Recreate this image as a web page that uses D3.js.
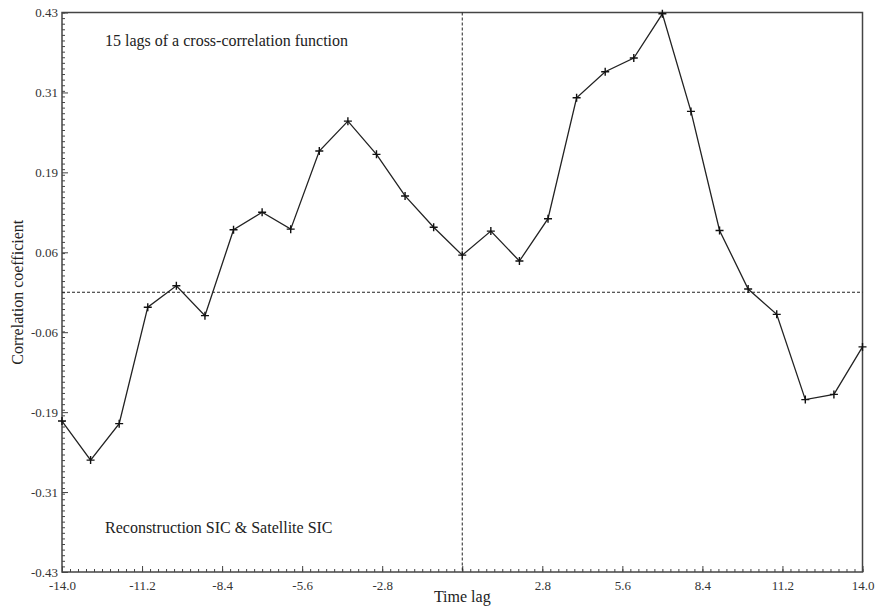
<!DOCTYPE html>
<html>
<head>
<meta charset="utf-8">
<script src="https://cdn.jsdelivr.net/npm/d3@7"></script>
<style>
  body { margin: 0; background: #fff; }
  svg { font-family: "Liberation Serif", "Times New Roman", serif; }
  .axis path, .axis line { stroke: #444; }
  .axis text { fill: #333; font-size: 13px; font-family: "Liberation Serif", serif; }
</style>
</head>
<body>
<svg width="875" height="608"></svg>
<script>
// lags and cross-correlation values
const lags = [-14, -13, -12, -11, -10, -9, -8, -7, -6, -5, -4, -3, -2, -1, 0,
  1, 2, 3, 4, 5, 6, 7, 8, 9, 10, 11, 12, 13, 14];
const corr = [-0.198, -0.258, -0.202, -0.023, 0.010, -0.036, 0.096, 0.123, 0.097,
  0.217, 0.263, 0.212, 0.148, 0.100, 0.057, 0.094, 0.048, 0.113, 0.299, 0.339,
  0.360, 0.428, 0.278, 0.095, 0.005, -0.034, -0.165, -0.157, -0.084];

const xTicks = [-14, -11.2, -8.4, -5.6, -2.8, 0, 2.8, 5.6, 8.4, 11.2, 14];
const xTickLabels = ["-14.0", "-11.2", "-8.4", "-5.6", "-2.8", "", "2.8", "5.6", "8.4", "11.2", "14.0"];
const yTicks = [0.43, 0.3071, 0.1843, 0.0614, -0.0614, -0.1843, -0.3071, -0.43];
const yTickLabels = ["0.43", "0.31", "0.19", "0.06", "-0.06", "-0.19", "-0.31", "-0.43"];

function main() {
  let svg = d3.select("svg"),
    left = 62, top = 12.5, right = 862.5, bottom = 572;

  let x = d3.scaleLinear().domain([-14, 14]).range([left, right]),
    y = d3.scaleLinear().domain([-0.43, 0.43]).range([bottom, top]);

  // minor ticks, 10 per labelled interval
  let xMinor = [], yMinor = [];
  for (let i = 0; i <= 100; i++) {
    xMinor.push(-14 + i * 0.28);
    yMinor.push(-0.43 + i * 0.0086);
  }

  svg.append("g")
    .attr("class", "axis")
    .attr("transform", "translate(0," + bottom + ")")
    .call(d3.axisBottom(x).tickValues(xMinor).tickSize(-3).tickFormat(""))
    .call(g => g.select(".domain").remove());
  svg.append("g")
    .attr("class", "axis")
    .attr("transform", "translate(" + left + ",0)")
    .call(d3.axisLeft(y).tickValues(yMinor).tickSize(-3).tickFormat(""))
    .call(g => g.select(".domain").remove());

  svg.append("g")
    .attr("class", "axis")
    .attr("transform", "translate(0," + bottom + ")")
    .call(d3.axisBottom(x).tickValues(xTicks).tickSizeInner(-6).tickSizeOuter(0).tickPadding(9)
      .tickFormat((d, i) => xTickLabels[i]))
    .call(g => g.select(".domain").remove());
  svg.append("g")
    .attr("class", "axis")
    .attr("transform", "translate(" + left + ",0)")
    .call(d3.axisLeft(y).tickValues(yTicks).tickSizeInner(-6).tickSizeOuter(0).tickPadding(6)
      .tickFormat((d, i) => yTickLabels[i]))
    .call(g => g.select(".domain").remove())
    .selectAll(".tick text").attr("x", -4);

  // frame
  svg.append("rect")
    .attr("x", left).attr("y", top)
    .attr("width", right - left).attr("height", bottom - top)
    .attr("fill", "none").attr("stroke", "#444").attr("stroke-width", 1.5);

  // zero reference lines
  svg.append("line")
    .attr("x1", left).attr("x2", right)
    .attr("y1", y(0)).attr("y2", y(0))
    .attr("stroke", "#222").attr("stroke-dasharray", "3,2");
  svg.append("line")
    .attr("x1", x(0)).attr("x2", x(0))
    .attr("y1", top).attr("y2", bottom)
    .attr("stroke", "#222").attr("stroke-dasharray", "3,2");

  let data = lags.map((l, i) => ({ lag: l, value: corr[i] }));

  svg.append("path")
    .datum(data)
    .attr("fill", "none")
    .attr("stroke", "#222")
    .attr("stroke-width", 1.3)
    .attr("d", d3.line().x(d => x(d.lag)).y(d => y(d.value)));

  // plus markers
  svg.selectAll(".marker")
    .data(data)
    .enter()
    .append("path")
    .attr("class", "marker")
    .attr("transform", d => "translate(" + x(d.lag) + "," + y(d.value) + ")")
    .attr("d", "M-4,0H4M0,-4V4")
    .attr("stroke", "#111")
    .attr("stroke-width", 1.4);

  svg.append("text")
    .attr("x", 105).attr("y", 46)
    .attr("font-size", "16px").attr("fill", "#222")
    .text("15 lags of a cross-correlation function");
  svg.append("text")
    .attr("x", 105).attr("y", 533)
    .attr("font-size", "16px").attr("fill", "#222")
    .text("Reconstruction SIC & Satellite SIC");

  svg.append("text")
    .attr("x", x(0)).attr("y", 602)
    .attr("text-anchor", "middle")
    .attr("font-size", "16px").attr("fill", "#222")
    .text("Time lag");
  svg.append("text")
    .attr("transform", "translate(23," + y(0) + ") rotate(-90)")
    .attr("text-anchor", "middle")
    .attr("font-size", "16px").attr("fill", "#222")
    .text("Correlation coefficient");
}

main();
</script>
</body>
</html>
